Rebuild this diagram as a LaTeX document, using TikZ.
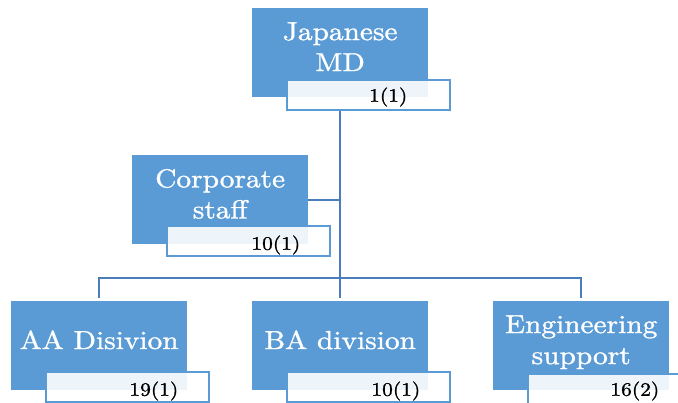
\documentclass[tikz,border=0pt]{standalone}
\usepackage{fontspec}
\setmainfont{lmroman10-regular}[Extension=.otf, FakeStretch=1.13, FakeBold=1.2]
\usetikzlibrary{calc}
\definecolor{unitblue}{HTML}{5B9BD5}
\definecolor{linkblue}{HTML}{4A7EBB}
\begin{document}
\begin{tikzpicture}[x=1pt,y=-1pt,
  unit/.style={fill=unitblue, draw=none, inner sep=0pt, anchor=north west,
    minimum width=176pt, minimum height=89pt},
  tally/.style={fill=white, fill opacity=0.9, draw=unitblue, draw opacity=1,
    line width=1.5pt, inner sep=0pt, anchor=north west,
    minimum width=163pt, minimum height=30pt},
  unitname/.style={text=white, align=center, font=\fontsize{26}{31}\selectfont,
    inner sep=0pt, text depth=0pt, yshift=6pt},
  count/.style={font=\fontsize{19}{22}\selectfont, inner sep=0pt, anchor=base east},
  link/.style={draw=linkblue, line width=2pt}]
\useasboundingbox (0,0) rectangle (678,402);
\clip (0,0) rectangle (678,402);
\coordinate (bus) at (0,278);

% unit boxes
\node[unit] (md) at (252,8) {};
\node[unit] (cs) at (132,155) {};
\node[unit] (aa) at (11,301) {};
\node[unit] (ba) at (252,301) {};
\node[unit] (eng) at (493,301) {};

% connectors
\draw[link, shorten >=3pt] (md.center |- 0,109) -- (ba.north);
\draw[link] (cs.east) -- (cs.east -| md.center);
\draw[link, shorten <=3pt, shorten >=3pt] (aa.north) |- (md.center |- bus) -| (eng.north);

% head-count tabs
\node[tally] (mdn) at (286,79) {};
\node[tally] (csn) at (166,225) {};
\node[tally] (aan) at (45,371) {};
\node[tally] (ban) at (286,371) {};
\node[tally] (engn) at (527,373) {};

% unit names
\node[unitname] (mdt) at (md.center) {Japanese\\MD};
\node[unitname] (cst) at (cs.center) {Corporate\\staff};
\node[unitname] (aat) at (aa.center) {AA Disivion};
\node[unitname] (bat) at (ba.center) {BA division};
\node[unitname] (engt) at (eng.center) {Engineering\\support};

% head counts
\node[count] (mdc) at ($(mdn.east)+(-43,7)$) {1(1)};
\node[count] (csc) at ($(csn.east)+(-30,9)$) {10(1)};
\node[count] (aac) at ($(aan.east)+(-31,9)$) {19(1)};
\node[count] (bac) at ($(ban.east)+(-30,9)$) {10(1)};
\node[count] (engc) at ($(engn.east)+(-32,7)$) {16(2)};
\end{tikzpicture}
\end{document}
